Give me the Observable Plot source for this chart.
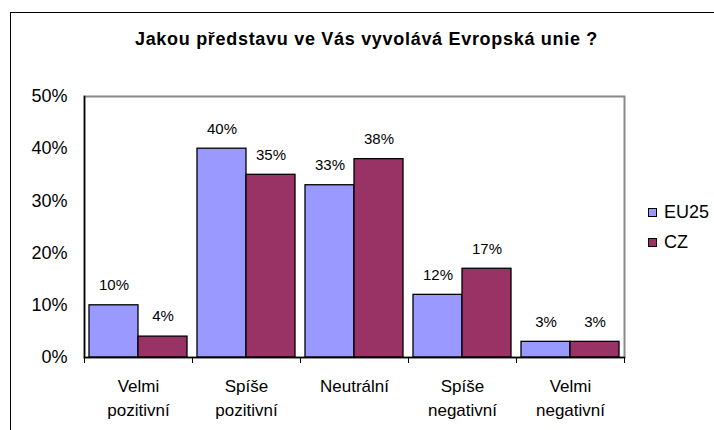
<!DOCTYPE html>
<html>
<head>
<meta charset="utf-8">
<script src="https://cdn.jsdelivr.net/npm/d3@7"></script>
<script src="https://cdn.jsdelivr.net/npm/@observablehq/plot@0.6"></script>
<style>
  html, body { margin: 0; padding: 0; width: 714px; height: 430px; overflow: hidden; background: #fff; }
  #wrap { position: relative; width: 714px; height: 430px; }
  #border { position: absolute; left: 10px; top: 12px; width: 720px; height: 440px; border: 1.5px solid #000; box-sizing: border-box; }
  #title { position: absolute; left: 0; top: 30px; width: 733px; text-align: center; font: bold 18px/18px "Liberation Sans", Arial, sans-serif; letter-spacing: 0.7px; color: #000; }
  #chart { position: absolute; left: 0; top: 0; }
  #legend { position: absolute; left: 648px; top: 203px; font: 18px/19px "Liberation Sans", Arial, sans-serif; color: #000; }
  #legend .item { display: flex; align-items: center; height: 19px; margin-bottom: 11px; }
  #legend .sw { width: 9px; height: 9px; border: 1px solid #000; box-sizing: border-box; margin-right: 7px; }
</style>
</head>
<body>
<div id="wrap">
  <div id="border"></div>
  <div id="chart"></div>
  <div id="title">Jakou představu ve Vás vyvolává Evropská unie ?</div>
  <div id="legend"></div>
</div>
<script>
const categories = ["Velmi pozitivní", "Spíše pozitivní", "Neutrální", "Spíše negativní", "Velmi negativní"];
const categoryLabels = ["Velmi\npozitivní", "Spíše\npozitivní", "Neutrální", "Spíše\nnegativní", "Velmi\nnegativní"];
const series = ["EU25", "CZ"];
const eu25 = [10, 40, 33, 12, 3];
const cz = [4, 35, 38, 17, 3];
const yTicks = [0, 10, 20, 30, 40, 50];
const colors = ["#9999FF", "#993366"];

const data = categories.flatMap((c, i) => [
  {category: c, series: "EU25", value: eu25[i]},
  {category: c, series: "CZ", value: cz[i]}
]);

const W = 714, H = 430, mL = 82, mR = 89, mT = 96, mB = 73;
const plotH = H - mT - mB;

const chart = Plot.plot({
  width: W, height: H,
  marginLeft: mL, marginRight: mR, marginTop: mT, marginBottom: mB,
  style: {fontFamily: "'Liberation Sans', Arial, sans-serif", fontSize: "18px", color: "#000", background: "transparent", overflow: "visible"},
  fx: {domain: categories, padding: 0, axis: null},
  x: {domain: series, paddingInner: 0, paddingOuter: 0.1, axis: null},
  y: {domain: [0, 50], ticks: yTicks, tickFormat: d => d + "%", tickSize: 0, tickPadding: 17, label: null},
  color: {domain: series, range: colors},
  marks: [
    Plot.frame({facet: "super", stroke: "#888", strokeWidth: 2}),
    Plot.barY(data, {fx: "category", x: "series", y: "value", fill: "series", stroke: "#000", strokeWidth: 1.3}),
    Plot.text(data, {fx: "category", x: "series", y: "value", text: d => d.value + "%", dy: -20, fontSize: 15}),
    Plot.frame({facet: "super", anchor: "left", stroke: "#000", strokeWidth: 1.5}),
    Plot.frame({facet: "super", anchor: "bottom", stroke: "#000", strokeWidth: 1.5}),
    Plot.frame({anchor: "left", stroke: "#000", insetTop: plotH, insetBottom: -5}),
    Plot.frame({anchor: "right", stroke: "#000", insetTop: plotH, insetBottom: -5}),
    Plot.text(categories, {fx: d => d, text: (d, i) => categoryLabels[i], frameAnchor: "bottom", lineAnchor: "top", dy: 18, fontSize: 17, lineHeight: 1.4})
  ]
});
document.getElementById("chart").appendChild(chart);

const legend = document.getElementById("legend");
series.forEach((s, i) => {
  const item = document.createElement("div");
  item.className = "item";
  const sw = document.createElement("div");
  sw.className = "sw";
  sw.style.background = colors[i];
  const label = document.createElement("span");
  label.textContent = s;
  item.appendChild(sw);
  item.appendChild(label);
  legend.appendChild(item);
});
</script>
</body>
</html>
